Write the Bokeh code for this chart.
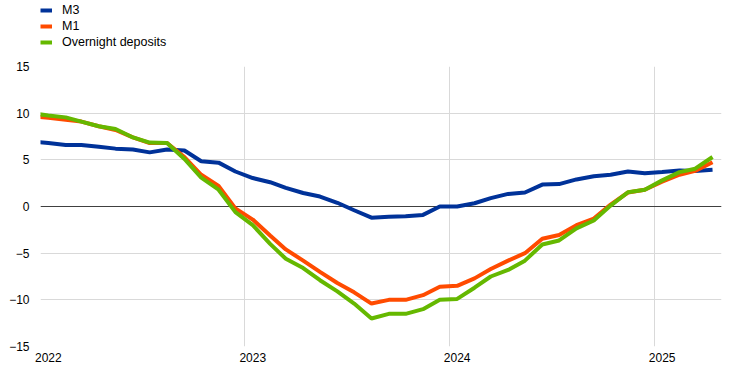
import pandas as pd
from bokeh.plotting import figure
from bokeh.layouts import column
from bokeh.models import (Legend, LegendItem, FixedTicker, Span, Range1d,
                          ColumnDataSource)
from bokeh.embed import file_html
from bokeh.resources import INLINE

# ---- data (annual growth rates, %) ----
months = [str(p) for p in pd.period_range("2021-12", "2025-04", freq="M")]

m3 = [7.0, 6.8, 6.6, 6.6, 6.4, 6.2, 6.1, 5.8, 6.1, 6.0, 4.85, 4.7, 3.75,
      3.05, 2.6, 2.0, 1.45, 1.07, 0.4, -0.4, -1.2, -1.1, -1.05, -0.9, 0.0,
      0.0, 0.35, 0.9, 1.35, 1.5, 2.35, 2.4, 2.9, 3.25, 3.4, 3.75, 3.57,
      3.7, 3.85, 3.8, 3.93]

m1 = [9.7, 9.5, 9.3, 9.1, 8.6, 8.2, 7.4, 6.8, 6.8, 5.3, 3.4, 2.2, -0.2,
      -1.4, -3.1, -4.6, -5.8, -7.0, -8.2, -9.2, -10.4, -10.0, -10.0, -9.5,
      -8.6, -8.5, -7.7, -6.7, -5.8, -5.0, -3.46, -3.05, -2.0, -1.3, 0.2,
      1.5, 1.8, 2.65, 3.4, 3.82, 4.75]

overnight = [10.0, 9.75, 9.55, 9.1, 8.6, 8.3, 7.4, 6.85, 6.8, 5.1, 3.1,
             1.8, -0.6, -2.0, -4.0, -5.6, -6.6, -7.9, -9.1, -10.4, -12.0,
             -11.5, -11.5, -11.0, -10.0, -9.9, -8.7, -7.5, -6.8, -5.8,
             -4.07, -3.64, -2.35, -1.5, 0.1, 1.53, 1.8, 2.8, 3.68, 4.05, 5.3]

series_names = ["M3", "M1", "Overnight deposits"]
series_colors = ["#003299", "#FF4B00", "#65B800"]
year_labels = ["2022", "2023", "2024", "2025"]

# ---- positions (mid-month) ----
dates = [pd.Period(m, freq="M").to_timestamp() + pd.Timedelta(days=14) for m in months]
source = ColumnDataSource(dict(x=dates, m3=m3, m1=m1, ovn=overnight))


def ms(ts):
    return pd.Timestamp(ts).value / 1e6


x_start = ms(year_labels[0] + "-01-01")
x_end = ms("2025-05-01")
label_ticks = [ms(y + "-01-15") for y in year_labels]
grid_ticks = [ms(y + "-01-01") for y in year_labels]

FONT = "Liberation Sans"

# ---- main chart ----
p = figure(width=742, height=313, output_backend="svg", toolbar_location=None,
           x_range=Range1d(x_start, x_end), y_range=Range1d(-15, 15),
           min_border_left=40, min_border_right=21, min_border_top=8,
           min_border_bottom=25, title=None)
p.outline_line_color = None
p.background_fill_color = "white"
p.border_fill_color = "white"

for ax in (p.xaxis[0], p.yaxis[0]):
    ax.axis_line_color = None
    ax.major_tick_line_color = None
    ax.minor_tick_line_color = None
    ax.major_tick_out = 0
    ax.major_tick_in = 0
    ax.major_label_text_font = FONT
    ax.major_label_text_font_size = "12px"
    ax.major_label_text_color = "#000000"

p.xaxis[0].ticker = FixedTicker(ticks=label_ticks)
p.xaxis[0].major_label_overrides = {t: lab for t, lab in zip(label_ticks, year_labels)}
p.xaxis[0].major_label_standoff = 6
p.yaxis[0].ticker = FixedTicker(ticks=[-15, -10, -5, 0, 5, 10, 15])
p.yaxis[0].major_label_standoff = 11

p.xgrid[0].ticker = FixedTicker(ticks=grid_ticks)
p.xgrid[0].grid_line_color = "#d9d9d9"
p.xgrid[0].grid_line_width = 1
p.ygrid[0].grid_line_color = "#d9d9d9"
p.ygrid[0].grid_line_width = 1

zero = Span(location=0, dimension="width", line_color="#404040",
            line_width=1, level="underlay")
p.add_layout(zero)

for col, colr in zip(["m3", "m1", "ovn"], series_colors):
    p.line("x", col, source=source, line_color=colr, line_width=4)

# ---- legend strip above the chart ----
lg = figure(width=742, height=58, output_backend="svg", toolbar_location=None,
            x_range=Range1d(0, 1), y_range=Range1d(0, 1),
            x_axis_location=None, y_axis_location=None,
            min_border_left=0, min_border_right=0, min_border_top=0,
            min_border_bottom=0, title=None)
lg.outline_line_color = None
lg.xgrid.visible = False
lg.ygrid.visible = False
items = []
for name, colr in zip(series_names, series_colors):
    # proxy renderers (outside the visible range) only used for the legend keys
    r = lg.line(x=[5, 6], y=[5, 5], line_color=colr, line_width=4)
    items.append(LegendItem(label=name, renderers=[r]))

legend = Legend(items=items, location=(0, 8), orientation="vertical",
                margin=0, padding=0, spacing=0, label_height=16,
                glyph_height=16, glyph_width=12, label_standoff=10,
                label_text_font=FONT, label_text_font_size="12.5px",
                label_text_color="#000000",
                border_line_color=None, background_fill_alpha=0)
lg.add_layout(legend, "center")

layout = column(lg, p, spacing=0)
open("out.html", "w").write(file_html(layout, INLINE))
